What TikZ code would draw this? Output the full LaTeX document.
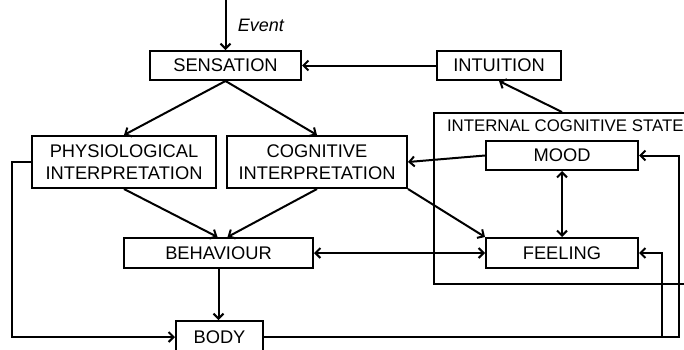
\documentclass[tikz,border=0pt]{standalone}
\usepackage{fontspec}
\setmainfont{Liberation Sans}
\usepackage{tikz}
\usetikzlibrary{positioning,arrows.meta}

\begin{document}
\begin{tikzpicture}[x=1pt, y=-1pt, line width=2pt,
									box/.style = {rectangle, draw, align=center, inner sep=0pt, font=\fontsize{18.3}{22}\selectfont},
									arr/.style = {-{Straight Barb[length=5pt,width=10pt]}},
									dblarr/.style = {{Straight Barb[length=5pt,width=10pt]}-{Straight Barb[length=5pt,width=10pt]}}]
					\clip (0,0) rectangle (684,349);
					\node[box, minimum width=286pt, minimum height=171pt] (ics) at (577, 198.5) {};
					\node[anchor=west, inner sep=0pt, font=\fontsize{16.8}{19}\selectfont] (icslabel) at (446, 126) {INTERNAL COGNITIVE STATE};
					\node[box, minimum width=151pt, minimum height=29pt] (sen) at (225.5, 65.5) {SENSATION};
					\node[box, minimum width=124pt, minimum height=29pt] (int) at (499, 65.5) {INTUITION};
					\node[box, minimum width=184pt, minimum height=52pt] (phy) at (124, 162) {PHYSIOLOGICAL\\INTERPRETATION};
					\node[box, minimum width=180pt, minimum height=52pt] (cog) at (317, 162) {COGNITIVE\\INTERPRETATION};
					\node[box, minimum width=152pt, minimum height=29pt] (moo) at (562, 155.5) {MOOD};
					\node[box, minimum width=152pt, minimum height=30pt] (fee) at (562, 253) {FEELING};
					\node[box, minimum width=189pt, minimum height=30pt] (beh) at (218.5, 253) {BEHAVIOUR};
					\node[box, minimum width=87pt, minimum height=32pt] (bod) at (219.5, 337) {BODY};
					\coordinate (ev) at (225.5, 0);
					
					\draw[arr] (ev) to node[right=8pt, font=\fontsize{18}{20}\selectfont\itshape] (evlabel) {Event} (sen.north);
					\draw[arr] (int.west) to (sen.east);
					\draw[arr] (moo |- ics.north) to (int.south);
					
					\draw[arr] (sen.south) to (phy.north);
					\draw[arr] (sen.south) to (cog.north);
					
					\draw[arr] (moo.west) to (cog.east);
					\draw[arr] (cog.south east) to (fee.north west);
					\draw[dblarr] (moo.south) to (fee.north);
					\draw[dblarr] (beh.east) to (fee.west);
					
					\draw[arr] (phy.south) to ([xshift=-1pt]beh.north);
					\draw[arr] (cog.south) to ([xshift=9pt]beh.north);
					\draw[arr] (beh.south) to (beh.south |- bod.north);
					
					\draw[arr] (phy.west) -- ++(-19,0) |- (bod.west);
					\draw[arr] (bod.east) -| ([xshift=40pt]moo.east) -- (moo.east);
					\draw[arr] ([xshift=23pt]fee.east |- bod.east) |- (fee.east);
				\end{tikzpicture}
\end{document}
